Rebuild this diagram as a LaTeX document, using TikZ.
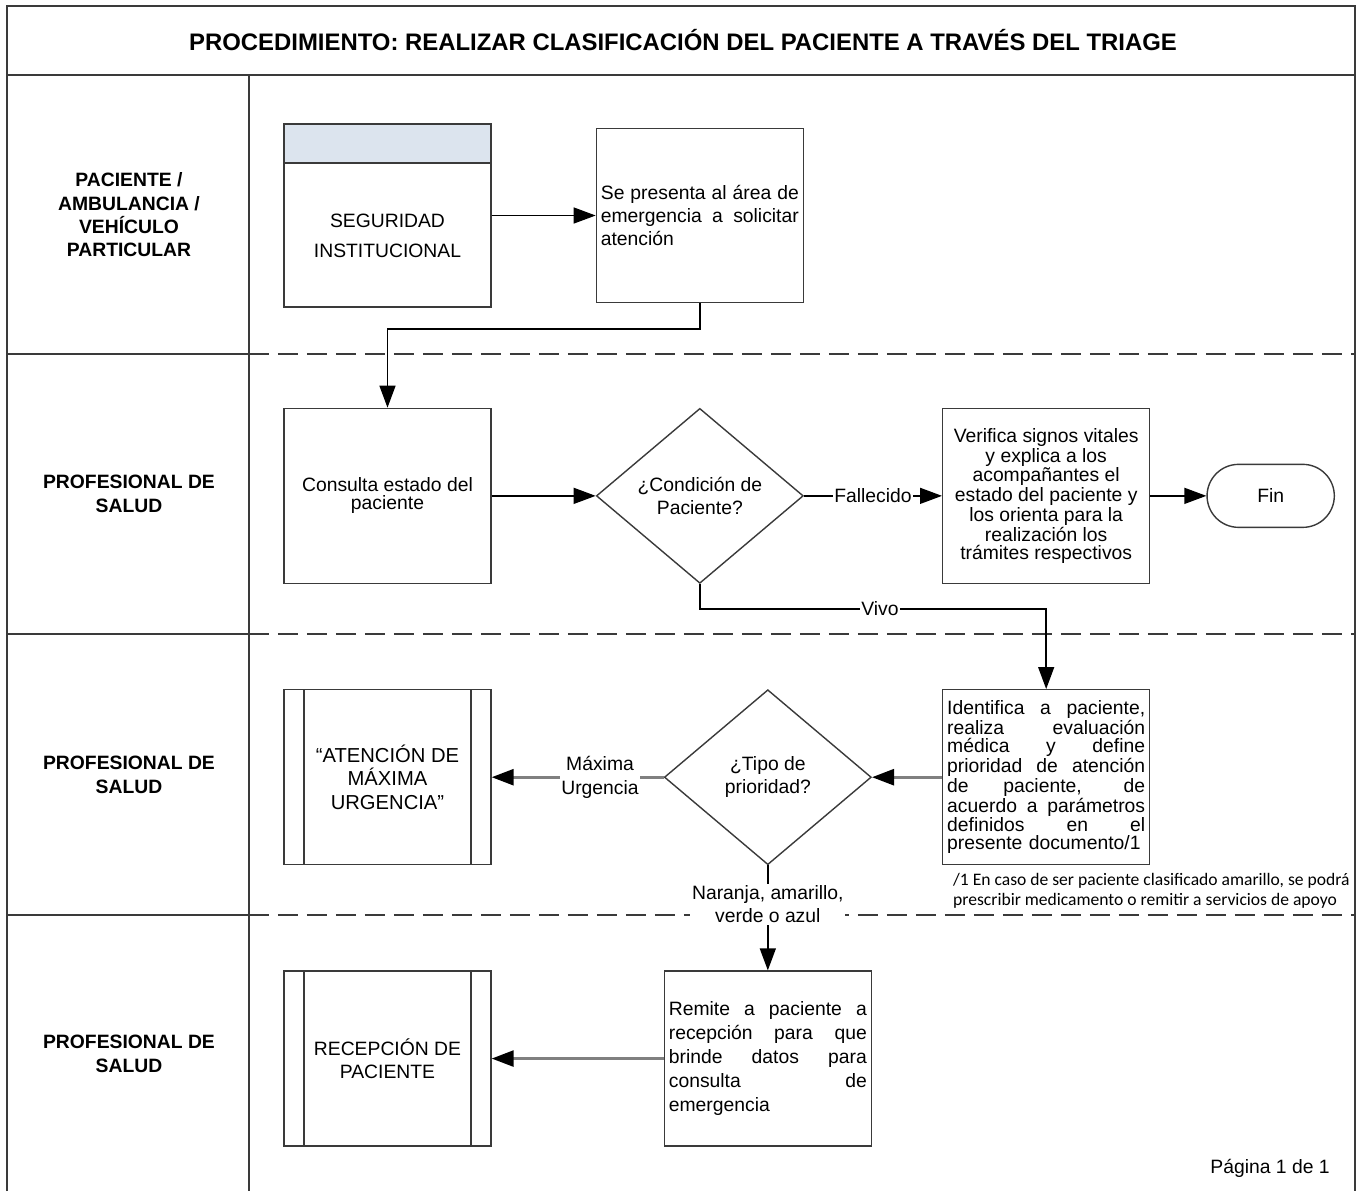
\documentclass[tikz,border=0pt]{standalone}
\usepackage{fontspec}
\setmainfont{Liberation Sans}
\newfontfamily\notafont{Carlito}
\usepackage{tikz}
\usetikzlibrary{shapes.geometric, shapes.misc, arrows.meta, positioning, calc}
\usepackage{xcolor}

\definecolor{borde}{HTML}{3A3A3A}
\definecolor{gris}{HTML}{808080}
\definecolor{cabecera}{HTML}{DCE4EE}

\newlength{\jancho}
\setlength{\jancho}{3.96cm}
\newcommand{\jline}[1]{\makebox[\jancho][s]{\spaceskip=0.28em plus 1fil\relax #1}}

\begin{document}
\begin{tikzpicture}[
    x=0.02cm, y=-0.02cm,
    >={Triangle[length=0.44cm,width=0.32cm]},
    every node/.style={align=center, font=\fontsize{11}{13.3}\selectfont}
]
    % Define styles
    \tikzstyle{marco} = [draw=borde, line width=1.1pt]
    \tikzstyle{carril} = [draw=borde, line width=1.1pt, dash pattern=on 0.4cm off 0.18cm]
    \tikzstyle{actor} = [font=\bfseries\fontsize{11}{13.3}\selectfont]
    \tikzstyle{proceso} = [rectangle, draw=borde, line width=0.8pt, minimum width=4.14cm, minimum height=3.5cm]
    \tikzstyle{denso} = [font=\fontsize{11}{10.2}\selectfont]
    \tikzstyle{justo} = [align=left, text width=\jancho, inner sep=2pt]
    \tikzstyle{decision} = [diamond, draw=borde, line width=0.8pt, minimum width=4.14cm, minimum height=3.5cm, inner sep=0pt]
    \tikzstyle{subproceso} = [proceso, path picture={
        \draw [borde, line width=0.8pt] ([xshift=0.4cm]path picture bounding box.north west) -- ([xshift=0.4cm]path picture bounding box.south west)
            ([xshift=-0.4cm]path picture bounding box.north east) -- ([xshift=-0.4cm]path picture bounding box.south east);}]
    \tikzstyle{sistema} = [proceso, minimum height=3.66cm, path picture={
        \fill [cabecera] (path picture bounding box.north west) rectangle ([yshift=-0.78cm]path picture bounding box.north east);
        \draw [borde, line width=0.8pt] ([yshift=-0.78cm]path picture bounding box.north west) -- ([yshift=-0.78cm]path picture bounding box.north east);}]
    \tikzstyle{terminal} = [rounded rectangle, draw=borde, line width=0.8pt, minimum width=2.78cm, minimum height=1.26cm]
    \tikzstyle{etiqueta} = [fill=white, inner sep=1pt]
    \tikzstyle{nota} = [font=\notafont\fontsize{10}{11.3}\selectfont, align=left]
    \tikzstyle{flecha} = [draw=black, line width=0.8pt, ->]
    \tikzstyle{flechagris} = [draw=gris, line width=1.5pt, -{Triangle[length=0.44cm,width=0.32cm,color=black]}]

    \useasboundingbox (0,0) rectangle (1356,1191);

    % Frame and lanes
    \draw [marco] (7,1191) -- (7,6) -- (1355,6) -- (1355,1191);
    \draw [marco] (7,75) -- (1355,75);
    \draw [marco] (249,75) -- (249,1191);
    \foreach \y in {354,634,915} {
        \draw [marco] (7,\y) -- (249,\y);
        \draw [carril] (249,\y) -- (1355,\y);
    }

    % Title
    \node [font=\bfseries\fontsize{13.6}{15}\selectfont] (titulo) at (683,40) {PROCEDIMIENTO: REALIZAR CLASIFICACIÓN DEL PACIENTE A TRAVÉS DEL TRIAGE};

    % Lane labels
    \node [actor] (actor1) at (129,215) {PACIENTE /\\AMBULANCIA /\\VEHÍCULO\\PARTICULAR};
    \node [actor] (actor2) at (129,494) {PROFESIONAL DE\\SALUD};
    \node [actor] (actor3) at (129,775) {PROFESIONAL DE\\SALUD};
    \node [actor] (actor4) at (129,1054) {PROFESIONAL DE\\SALUD};

    % Lane 1
    \node [sistema, label={[font=\fontsize{11}{17}\selectfont, align=center, yshift=-0.4cm]center:SEGURIDAD\\INSTITUCIONAL}] (seg) at (387.5,215.5) {};
    \node [proceso, justo, minimum height=3.48cm, right=2.08cm of seg] (pres) {\jline{Se presenta al área de}\\\jline{emergencia a solicitar}\\atención};

    % Lane 2
    \node [proceso, denso, below=2cm of seg] (consulta) {Consulta estado del\\paciente};
    \node [decision, right=2.08cm of consulta] (cond) {¿Condición de\\Paciente?};
    \node [proceso, denso, right=2.76cm of cond] (verif) {Verifica signos vitales\\y explica a los\\acompañantes el\\estado del paciente y\\los orienta para la\\realización los\\trámites respectivos};
    \node [terminal, right=1.12cm of verif] (fin) {Fin};

    % Lane 3
    \node [proceso, denso, justo, below=2.1cm of verif] (ident) {\jline{Identifica a paciente,}\\\jline{realiza evaluación}\\\jline{médica y define}\\\jline{prioridad de atención}\\\jline{de paciente, de}\\\jline{acuerdo a parámetros}\\\jline{definidos en el}\\presente documento/1};
    \node [decision, left=1.4cm of ident] (tipo) {¿Tipo de\\prioridad?};
    \node [subproceso, font=\fontsize{11.5}{13.3}\selectfont] (atencion) [below=2.1cm of consulta] {“ATENCIÓN DE\\MÁXIMA\\URGENCIA”};
    \node [nota, below right=0.04cm and 0.1cm of ident.south west] (nota) {/1 En caso de ser paciente clasificado amarillo, se podrá\\prescribir medicamento o remitir a servicios de apoyo};

    % Lane 4
    \node [proceso, justo, below=2.1cm of tipo, font=\fontsize{11}{13.6}\selectfont] (remite) {\jline{Remite a paciente a}\\\jline{recepción para que}\\\jline{brinde datos para}\\\jline{consulta de}\\emergencia};
    \node [subproceso, below=2.1cm of atencion] (recep) {RECEPCIÓN DE\\PACIENTE};

    \node (pagina) at (1270,1168) {Página 1 de 1};

    % Connectors
    \draw [flecha] (seg.east) -- (pres.west);
    \draw [flecha] (pres.south) -- ++(0,26) -| (consulta.north);
    \draw [flecha] (consulta) -- (cond);
    \draw [flecha] (cond) -- node [etiqueta] {Fallecido} (verif);
    \draw [flecha] (verif) -- (fin);
    \draw [flecha] (cond.south) -- ++(0,25) -| node [etiqueta, pos=0.26] {Vivo} (ident.north);
    \draw [flechagris] (ident) -- (tipo);
    \draw [flechagris] (tipo) -- node [etiqueta, pos=0.37] {Máxima\\Urgencia} (atencion);
    \draw [flecha] (tipo) -- node [etiqueta, pos=0.37] {Naranja, amarillo,\\verde o azul} (remite);
    \draw [flechagris] (remite) -- (recep);

\end{tikzpicture}
\end{document}
